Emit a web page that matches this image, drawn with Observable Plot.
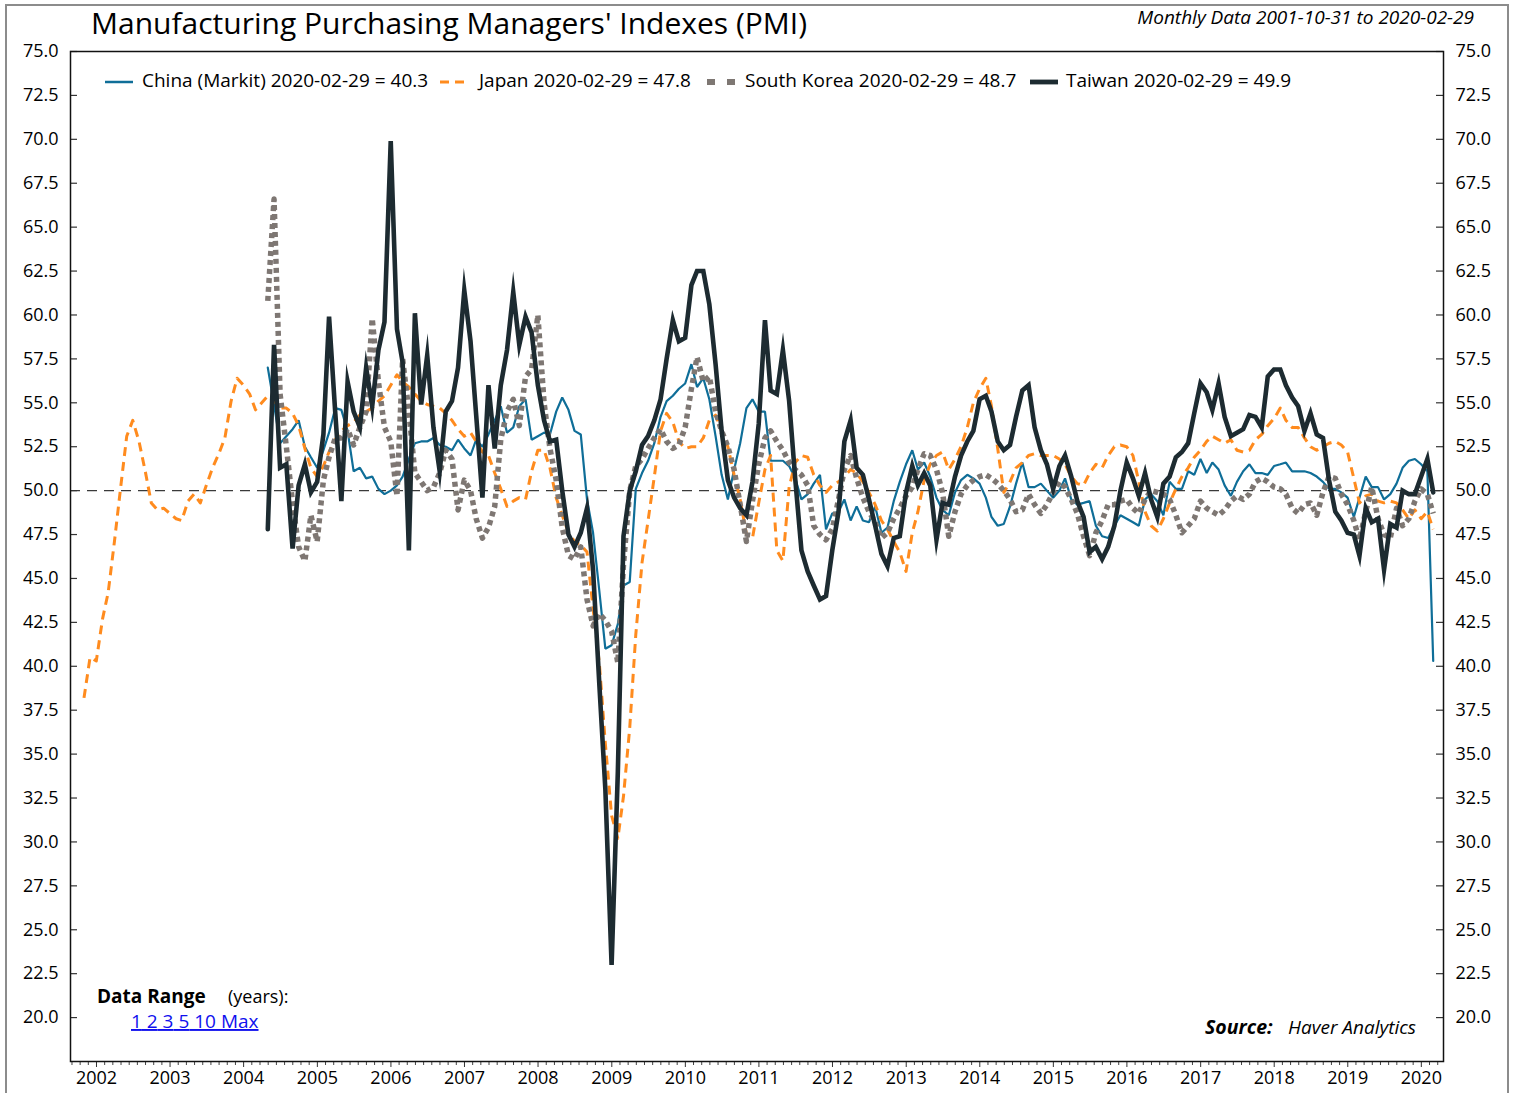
<!DOCTYPE html>
<html>
<head>
<meta charset="utf-8">
<script src="https://cdn.jsdelivr.net/npm/d3@7"></script>
<script src="https://cdn.jsdelivr.net/npm/@observablehq/plot@0.6"></script>
<style>
  html, body { margin: 0; padding: 0; background: #fff; }
  #wrap { position: relative; width: 1520px; height: 1093px; overflow: hidden; font-family: "Open Sans", sans-serif; }
  #chart { position: absolute; left: 0; top: 0; }
  #ov { position: absolute; left: 0; top: 0; pointer-events: none; }
  #border { position: absolute; left: 5px; top: 4px; width: 1504px; height: 1110px; border: 2px solid #8c8c8c; box-sizing: border-box; }
</style>
</head>
<body>
<div id="wrap">
  <div id="border"></div>
  <div id="chart"></div>
  <svg id="ov" width="1520" height="1093" font-family="Open Sans, sans-serif"></svg>
</div>
<script>
// ---------------- data (monthly, month-end) ----------------
const seriesNames = ["China (Markit)", "Japan", "South Korea", "Taiwan"];
const lastDate = "2020-02-29";

// Japan: Oct 2001 .. Feb 2020
const japanStart = [2001, 9];
const japan = [
  38.2, 40.5, 40.3, 42.7, 44.2, 47.1, 50.1, 53.1, 54.0, 52.8,
  51.1, 49.3, 48.9, 49.0, 48.7, 48.4, 48.3, 49.4, 49.8, 49.3,
  50.3, 51.3, 52.1, 53.0, 55.1, 56.4, 56.0, 55.5, 54.6, 55.0,
  55.4, 55.1, 54.7, 54.7, 54.4, 53.7, 52.4, 51.3, 50.8, 51.4,
  52.2, 52.9, 53.4, 53.7, 53.9, 54.3, 54.5, 54.7, 55.1, 55.4,
  56.0, 56.6, 56.2, 55.9, 55.5, 55.1, 54.9, 54.8, 54.7, 54.4,
  54.0, 53.5, 53.1, 53.3, 52.8, 52.2, 52.0, 51.0, 50.1, 49.1,
  49.4, 49.6, 49.5, 51.1, 52.3, 52.3, 51.3, 49.6, 48.6, 47.6,
  47.1, 46.9, 46.5, 43.3, 40.2, 35.6, 31.5, 30.2, 32.6, 36.5,
  41.8, 45.9, 48.3, 50.8, 53.4, 54.4, 53.9, 52.8, 52.4, 52.5,
  52.5, 53.0, 54.0, 54.3, 53.4, 52.5, 50.9, 49.5, 47.5, 47.3,
  49.3, 51.2, 52.0, 46.6, 46.0, 50.2, 51.6, 52.0, 51.9, 50.9,
  50.3, 49.9, 50.3, 50.5, 50.8, 51.2, 51.0, 50.5, 49.9, 49.2,
  48.3, 47.8, 47.1, 46.5, 45.4, 47.6, 48.8, 50.6, 51.5, 52.0,
  52.2, 51.2, 51.8, 52.5, 53.6, 55.0, 55.8, 56.4, 54.8, 52.4,
  49.9, 50.5, 51.3, 51.6, 52.0, 52.1, 52.0, 52.0, 52.0, 51.8,
  51.5, 50.8, 50.4, 50.3, 51.0, 51.5, 51.3, 52.0, 52.5, 52.6,
  52.5, 52.0, 50.5, 48.8, 48.0, 47.7, 48.4, 49.3, 50.1, 50.8,
  51.3, 51.9, 52.3, 52.8, 53.1, 52.9, 52.7, 52.9, 52.3, 52.2,
  52.3, 52.9, 53.2, 53.7, 54.1, 54.7, 54.0, 53.6, 53.6, 53.0,
  52.5, 52.3, 52.5, 52.7, 52.8, 52.6, 52.2, 50.7, 49.3, 49.7,
  49.8, 49.4, 49.3, 49.4, 49.3, 48.9, 48.4, 48.9, 48.4, 48.8,
  47.8
];

// China, South Korea, Taiwan: Apr 2004 .. Feb 2020
const asiaStart = [2004, 3];
const china = [
  57.0, 54.9, 52.7, 53.1, 53.5, 54.0, 52.5, 51.9, 51.3, 52.3,
  53.3, 54.7, 54.6, 53.4, 51.1, 51.3, 50.7, 50.8, 50.1, 49.8,
  50.0, 50.3, 50.8, 51.8, 52.7, 52.8, 52.8, 53.0, 52.6, 52.5,
  52.3, 52.9, 52.4, 52.0, 52.9, 52.5, 53.2, 54.0, 54.8, 53.3,
  53.6, 54.8, 55.2, 52.9, 53.1, 53.3, 53.2, 54.5, 55.3, 54.6,
  53.4, 53.2, 49.5, 47.6, 44.3, 41.0, 41.2, 42.4, 44.6, 44.8,
  50.1, 51.0, 51.7, 52.7, 54.2, 55.1, 55.4, 55.8, 56.1, 57.2,
  55.9, 56.4, 55.2, 53.1, 50.9, 49.5, 51.2, 52.7, 54.7, 55.2,
  54.5, 54.5, 51.7, 51.7, 51.7, 51.4, 50.7, 49.5, 49.8, 50.4,
  50.9, 47.8, 48.7, 48.8, 49.5, 48.3, 49.1, 48.3, 48.2, 49.1,
  47.6, 47.9, 49.4, 50.5, 51.5, 52.3, 51.2, 51.6, 50.8, 49.6,
  48.9, 48.6, 49.9, 50.6, 50.9, 50.7, 50.4, 49.6, 48.5, 48.0,
  48.1, 49.1, 50.4, 51.6, 50.2, 50.2, 50.4, 50.0, 49.6, 50.0,
  50.7, 49.5, 49.2, 49.3, 49.4, 48.0, 47.4, 47.3, 48.0, 48.6,
  48.4, 48.2, 48.0, 49.5, 49.8, 49.4, 48.6, 50.5, 50.1, 50.1,
  51.1, 50.9, 51.8, 51.0, 51.6, 51.2, 50.3, 49.7, 50.5, 51.1,
  51.5, 51.0, 51.0, 50.9, 51.4, 51.5, 51.6, 51.1, 51.1, 51.1,
  51.0, 50.8, 50.5, 50.1, 50.1, 49.9, 49.6, 48.5, 49.6, 50.8,
  50.2, 50.2, 49.5, 49.8, 50.4, 51.3, 51.7, 51.8, 51.5, 51.1,
  40.3
];
const korea = [
  60.8, 66.6, 55.5, 52.5, 49.3, 46.8, 46.0, 48.6, 47.1, 50.6,
  51.9, 53.0, 53.0, 53.5, 52.6, 53.6, 54.5, 59.8, 56.2, 53.6,
  52.8, 49.7, 57.5, 54.5, 51.0, 50.5, 50.0, 50.2, 51.0, 52.3,
  51.8, 48.9, 50.6, 50.0, 48.4, 47.3, 47.9, 49.1, 52.9, 54.5,
  55.2, 53.7, 56.5, 56.9, 60.0, 55.0, 52.4, 50.6, 47.9, 46.3,
  46.1, 46.8, 43.8, 42.3, 43.0, 42.6, 42.0, 40.2, 45.8, 50.0,
  51.4, 51.8, 52.4, 53.0, 53.5, 52.8, 52.4, 52.6, 53.6, 55.8,
  57.6, 56.2, 56.5, 54.5, 53.4, 52.5, 51.2, 49.2, 47.1, 49.4,
  51.5, 53.0, 53.4, 52.8, 52.3, 51.6, 51.2, 50.9, 50.3, 48.0,
  47.5, 47.2, 47.8, 49.5, 51.2, 52.0, 50.7, 49.6, 48.8, 48.2,
  47.3, 47.6, 48.4, 49.0, 49.7, 50.2, 51.2, 52.1, 52.0, 51.2,
  49.9, 47.4, 48.8, 49.8, 50.3, 50.6, 50.8, 50.9, 50.7, 50.4,
  50.0, 49.5, 48.8, 48.9, 49.8, 49.2, 48.7, 49.2, 49.9, 50.5,
  50.2, 49.5, 48.7, 47.4, 46.3, 47.6, 48.3, 49.2, 49.2, 49.4,
  49.5, 49.0, 48.7, 49.5, 50.0, 49.9, 49.8, 49.5, 48.6, 47.6,
  48.0, 48.4, 49.4, 49.0, 48.8, 48.6, 48.9, 49.4, 49.7, 49.5,
  49.8, 50.5, 50.7, 50.5, 50.2, 50.1, 49.8, 49.0, 48.7, 49.2,
  49.3, 48.6, 49.9, 50.8, 50.7, 49.8, 49.2, 48.3, 47.2, 48.8,
  50.2, 48.4, 47.5, 47.3, 49.0, 48.0, 48.4, 49.4, 50.1, 49.8,
  48.7
];
const taiwan = [
  47.8, 58.3, 51.3, 51.5, 46.7, 50.3, 51.5, 49.9, 50.5, 53.2,
  59.9, 54.4, 49.4, 56.2, 54.5, 53.6, 57.0, 54.8, 58.0, 59.6,
  69.9, 59.2, 57.3, 46.6, 60.1, 54.9, 57.7, 53.6, 51.1, 54.5,
  55.1, 57.0, 61.4, 58.5, 54.3, 49.6, 56.0, 52.4, 56.0, 58.0,
  61.3, 58.3, 59.9, 59.0, 56.0, 54.0, 52.8, 52.9, 50.0, 47.5,
  46.8, 47.6, 49.0, 45.5, 39.0, 33.0, 23.0, 34.0, 47.4, 50.0,
  51.1, 52.6, 53.1, 54.0, 55.2, 57.5, 59.7, 58.5, 58.7, 61.7,
  62.5, 62.5, 60.6, 57.2, 53.4, 50.6, 49.6, 49.0, 48.6, 50.5,
  53.8, 59.7, 55.7, 55.5, 58.0, 55.1, 50.7, 46.6, 45.4, 44.6,
  43.8, 44.0, 46.6, 48.8, 52.8, 54.0, 51.3, 50.9, 49.5, 48.0,
  46.4, 45.7, 47.3, 47.4, 49.9, 51.4, 50.3, 51.0, 50.3, 47.2,
  49.3, 49.2, 50.8, 52.0, 52.8, 53.4, 55.2, 55.4, 54.5, 52.8,
  52.3, 52.6, 54.2, 55.7, 56.0, 53.6, 52.3, 51.5, 50.1, 51.4,
  52.0, 50.8, 49.4, 48.5, 46.5, 46.8, 46.1, 46.8, 48.0, 50.0,
  51.6, 50.7, 49.7, 51.0, 49.5, 48.5, 50.4, 50.8, 51.9, 52.2,
  52.7, 54.4, 56.1, 55.6, 54.6, 56.1, 54.2, 53.1, 53.3, 53.5,
  54.3, 54.2, 53.6, 56.5, 56.9, 56.9, 56.0, 55.3, 54.8, 53.4,
  54.4, 53.2, 53.0, 50.6, 48.8, 48.3, 47.6, 47.5, 46.3, 49.0,
  48.2, 48.4, 45.5, 48.1, 47.9, 50.0, 49.8, 49.8, 50.8, 51.8,
  49.9
];

const yTicks = [20, 22.5, 25, 27.5, 30, 32.5, 35, 37.5, 40, 42.5, 45, 47.5, 50, 52.5, 55, 57.5, 60, 62.5, 65, 67.5, 70, 72.5, 75];
const rangeLinks = ["1", "2", "3", "5", "10", "Max"];
const minorPerYear = 9;

// ---------------- build rows ----------------
const monthEnd = (start, i) => new Date(Date.UTC(start[0], start[1] + i + 1, 0));
const rows = (arr, start) => arr.map((v, i) => ({date: monthEnd(start, i), value: v}));
const japanRows = rows(japan, japanStart);
const chinaRows = rows(china, asiaStart);
const koreaRows = rows(korea, asiaStart);
const taiwanRows = rows(taiwan, asiaStart);

const colors = {china: "#0f6e98", japan: "#ff8b1e", korea: "#7e7773", taiwan: "#1d2b31"};

const W = 1520, H = 1093, mL = 70, mR = 77, mT = 51, mB = 32;
const plotW = W - mL - mR;
const xDomain = [new Date(Date.UTC(2001, 7, 25)), new Date(Date.UTC(2020, 3, 20))];

// minor x ticks between year ticks
const minorTicks = [];
for (let yr = 2001; yr <= 2020; yr++) {
  const a = Date.UTC(yr, 0, 1), b = Date.UTC(yr + 1, 0, 1);
  for (let k = 1; k < minorPerYear; k++) {
    const d = new Date(a + (b - a) * k / minorPerYear);
    if (d > xDomain[0] && d < xDomain[1]) minorTicks.push(d);
  }
}

const chart = Plot.plot({
  width: W, height: H,
  marginLeft: mL, marginRight: mR, marginTop: mT, marginBottom: mB,
  style: {fontFamily: "Open Sans, sans-serif", fontSize: "18px", color: "#000", background: "transparent"},
  x: {type: "utc", domain: xDomain},
  y: {domain: [17.5, 75]},
  marks: [
    Plot.ruleY([50], {stroke: "#3a3a3a", strokeWidth: 1.2, strokeDasharray: "10,7"}),
    Plot.line(chinaRows, {x: "date", y: "value", stroke: colors.china, strokeWidth: 2.2, strokeLinejoin: "miter"}),
    Plot.line(japanRows, {x: "date", y: "value", stroke: colors.japan, strokeWidth: 3, strokeDasharray: "9,6", strokeLinecap: "butt"}),
    Plot.line(koreaRows, {x: "date", y: "value", stroke: colors.korea, strokeWidth: 5.5, strokeDasharray: "5,4", strokeLinecap: "butt"}),
    Plot.line(taiwanRows, {x: "date", y: "value", stroke: colors.taiwan, strokeWidth: 4.6, strokeLinejoin: "miter", strokeMiterlimit: 10}),
    // y ticks, pointing inward on both sides
    Plot.ruleY(yTicks, {stroke: "#333", strokeWidth: 1.2, insetRight: plotW - 7}),
    Plot.ruleY(yTicks, {stroke: "#333", strokeWidth: 1.2, insetLeft: plotW - 7}),
    Plot.axisY({anchor: "left", ticks: yTicks, tickSize: 0, tickPadding: 12, tickFormat: d => d.toFixed(1), fontSize: 18, label: null}),
    Plot.axisY({anchor: "right", ticks: yTicks, tickSize: 0, tickPadding: 12, tickFormat: d => d.toFixed(1), fontSize: 18, label: null}),
    Plot.axisX({ticks: minorTicks, tickFormat: () => "", tickSize: 4, label: null, stroke: "#444"}),
    Plot.axisX({ticks: d3.utcYear.every(1), tickFormat: d3.utcFormat("%Y"), tickSize: 6, tickPadding: 4, fontSize: 18, label: null, stroke: "#333"}),
    Plot.frame({stroke: "#111", strokeWidth: 1.5})
  ]
});
document.getElementById("chart").appendChild(chart);

// ---------------- overlay: titles, legend, notes ----------------
const ov = d3.select("#ov");
ov.append("text").attr("x", 91).attr("y", 34).attr("font-size", 30).attr("fill", "#000")
  .text("Manufacturing Purchasing Managers' Indexes (PMI)");
ov.append("text").attr("x", 1474).attr("y", 24).attr("font-size", 19).attr("font-style", "italic")
  .attr("text-anchor", "end").text(`Monthly Data 2001-10-31 to ${lastDate}`);

const legendItems = [
  {name: seriesNames[0], last: china[china.length - 1], color: colors.china, w: 2.5, dash: null, x: 105, tx: 142},
  {name: seriesNames[1], last: japan[japan.length - 1], color: colors.japan, w: 3, dash: "9,6", x: 440, tx: 479},
  {name: seriesNames[2], last: korea[korea.length - 1], color: colors.korea, w: 6, dash: "8,12", x: 707, tx: 745},
  {name: seriesNames[3], last: taiwan[taiwan.length - 1], color: colors.taiwan, w: 4.8, dash: null, x: 1030, tx: 1066}
];
for (const it of legendItems) {
  ov.append("line").attr("x1", it.x).attr("x2", it.x + 28).attr("y1", 82).attr("y2", 82)
    .attr("stroke", it.color).attr("stroke-width", it.w).attr("stroke-dasharray", it.dash);
  ov.append("text").attr("x", it.tx).attr("y", 87).attr("font-size", 19)
    .text(`${it.name} ${lastDate} = ${it.last.toFixed(1)}`);
}

ov.append("text").attr("x", 97).attr("y", 1003).attr("font-size", 19).attr("font-weight", "bold").text("Data Range");
ov.append("text").attr("x", 228).attr("y", 1003).attr("font-size", 18).text("(years):");
const lt = ov.append("text").attr("x", 131).attr("y", 1028).attr("font-size", 19).attr("fill", "#1010ee");
rangeLinks.forEach((s, i) => {
  lt.append("tspan").attr("text-decoration", "underline").text((i ? " " : "") + s);
});

ov.append("text").attr("x", 1205).attr("y", 1034).attr("font-size", 19.5).attr("font-weight", "bold").attr("font-style", "italic").text("Source:");
ov.append("text").attr("x", 1288).attr("y", 1034).attr("font-size", 19).attr("font-style", "italic").text("Haver Analytics");
</script>
</body>
</html>
